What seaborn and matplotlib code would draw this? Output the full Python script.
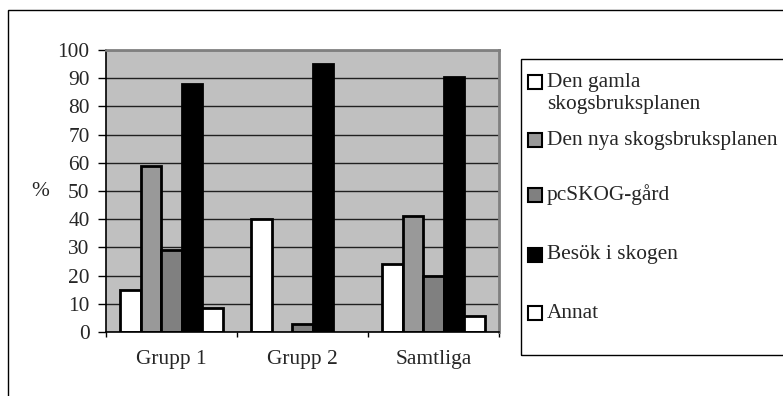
import pandas as pd
import matplotlib.pyplot as plt
from matplotlib.patches import Rectangle
from matplotlib.ticker import FixedLocator
import seaborn as sns

# donnees
grupper = ["Grupp 1", "Grupp 2", "Samtliga"]
kategorier = ["Den gamla skogsbruksplanen", "Den nya skogsbruksplanen",
              "pcSKOG-gård", "Besök i skogen", "Annat"]
den_gamla = [15, 40, 24]
den_nya = [59, 0, 41]
pcskog = [29, 2.7, 20]
besok = [88, 95, 90.5]
annat = [8.5, 0, 5.5]
farger = ["#FFFFFF", "#999999", "#808080", "#000000", "#FFFFFF"]

rows = []
for kat, vals in zip(kategorier, [den_gamla, den_nya, pcskog, besok, annat]):
    for g, v in zip(grupper, vals):
        rows.append({"grupp": g, "kategori": kat, "procent": v})
df = pd.DataFrame(rows)

sns.set_theme(style="white")
plt.rcParams["font.family"] = ["Liberation Serif", "DejaVu Serif"]
FS = 15.4

W, H = 783, 396
fig = plt.figure(figsize=(W / 100, H / 100), dpi=100)

def fx(px):
    return px / W

def fy(py):
    return (H - py) / H

ax = fig.add_axes([fx(106), fy(332), fx(499) - fx(106), fy(50) - fy(332)])
sns.barplot(data=df, x="grupp", y="procent", hue="kategori", order=grupper,
            hue_order=kategorier, palette=dict(zip(kategorier, farger)),
            width=0.78, edgecolor="black", linewidth=2, ax=ax, legend=False)
# les barres a zero ne se voient pas dans l'original
for p in ax.patches:
    if p.get_height() == 0:
        p.set_visible(False)

ax.set_facecolor("#C0C0C0")
ax.set_ylim(0, 100)
ax.set_xlim(-0.5, 2.5)
ax.set_yticks(range(0, 101, 10))
ax.set_axisbelow(True)
ax.yaxis.grid(True, color="#202020", linewidth=1)
ax.xaxis.grid(False)
ax.tick_params(axis="y", direction="out", length=5.8, width=1, color="black",
               pad=6, labelsize=FS, left=True)
ax.tick_params(axis="x", which="major", length=0, pad=13, labelsize=FS)
ax.xaxis.set_minor_locator(FixedLocator([-0.5, 0.5, 1.5, 2.5]))
ax.tick_params(axis="x", which="minor", direction="out", length=3.6, width=1,
               color="black", bottom=True)
ax.set_xlabel("")
ax.set_ylabel("%", rotation=0, fontsize=FS, va="center", ha="center")
ax.yaxis.set_label_coords((40 - 106) / 393, 0.5)
for s in ["left", "bottom"]:
    ax.spines[s].set_color("black")
    ax.spines[s].set_linewidth(1.2)
for s in ["top", "right"]:
    ax.spines[s].set_color("#808080")
    ax.spines[s].set_linewidth(2)

# cadre exterieur
fig.add_artist(Rectangle((fx(8), -0.1), 1.2, fy(10) + 0.1, transform=fig.transFigure,
                         fill=False, edgecolor="black", linewidth=1))

# legende faite a la main
fig.add_artist(Rectangle((fx(521), fy(355)), 0.5, fy(59) - fy(355),
                         transform=fig.transFigure, fill=False,
                         edgecolor="black", linewidth=1))
leg_y = [82, 140, 195, 255, 313]
for kat, col, y in zip(kategorier, farger, leg_y):
    fig.add_artist(Rectangle((fx(528), fy(y + 7)), fx(14), fy(y - 7) - fy(y + 7),
                             transform=fig.transFigure, facecolor=col,
                             edgecolor="black", linewidth=1.5))
    if kat == "Den gamla skogsbruksplanen":
        fig.text(fx(547), fy(y), "Den gamla", fontsize=FS, va="center", ha="left")
        fig.text(fx(547), fy(y + 22), "skogsbruksplanen", fontsize=FS,
                 va="center", ha="left")
    else:
        fig.text(fx(547), fy(y), kat, fontsize=FS, va="center", ha="left")

fig.savefig("out.png", dpi=100)
